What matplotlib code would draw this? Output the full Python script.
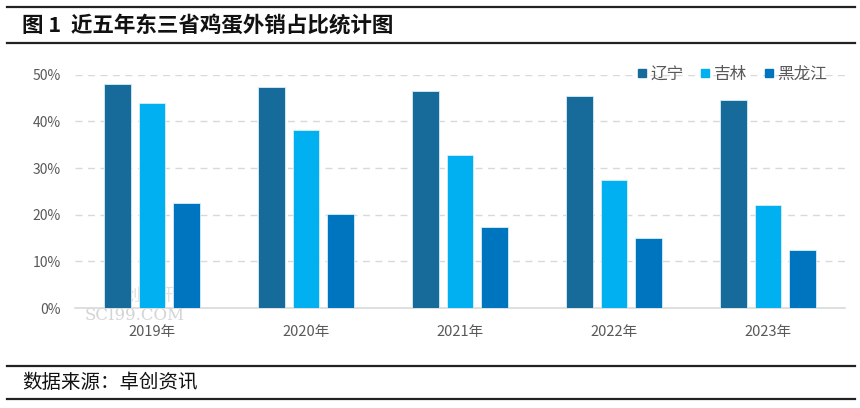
import matplotlib
matplotlib.use("Agg")
import matplotlib.pyplot as plt
import numpy as np
from matplotlib.lines import Line2D

plt.rcParams['font.family'] = ['Noto Sans CJK SC', 'DejaVu Sans']

years = ["2019年", "2020年", "2021年", "2022年", "2023年"]
series_names = ["辽宁", "吉林", "黑龙江"]
liaoning = [48.1, 47.3, 46.5, 45.5, 44.5]
jilin = [43.9, 38.1, 32.8, 27.4, 22.1]
heilongjiang = [22.5, 20.1, 17.4, 15.1, 12.4]
colors = ["#176B9A", "#00B0F0", "#0075BF"]
yticks = [0, 10, 20, 30, 40, 50]

fig = plt.figure(figsize=(8.6, 4.08), dpi=100)
ax = fig.add_axes([75/860, 1-308/408, 770/860, (308-74.7)/408])

x = np.arange(len(years))
w = 0.175
step = 0.222
for i, (vals, c, name) in enumerate(zip([liaoning, jilin, heilongjiang], colors, series_names)):
    ax.bar(x + (i-1)*step, vals, width=w, color=c, edgecolor="#D6EEF8", linewidth=0.6, label=name, zorder=3)

ax.set_xlim(-0.5, len(years)-0.5)
ax.set_ylim(0, 50)
ax.set_yticks(yticks)
ax.set_yticklabels([f"{t}%" for t in yticks], fontsize=10, color="#595959")
ax.set_xticks(x)
ax.set_xticklabels(years, fontsize=10.5, color="#595959")
ax.tick_params(axis='both', length=0)
ax.tick_params(axis='y', pad=10)
ax.tick_params(axis='x', pad=12.5)
for s in ['top', 'right', 'left']:
    ax.spines[s].set_visible(False)
ax.spines['bottom'].set_color("#D9D9D9")
ax.spines['bottom'].set_linewidth(1.2)
ax.yaxis.grid(True, linestyle=(0, (5, 4)), color="#D9D9D9", linewidth=1.0, zorder=0)
ax.set_axisbelow(True)

handles = [Line2D([0], [0], marker='s', color='none', markerfacecolor=c, markeredgecolor=c, markersize=5.5) for c in colors]
leg = fig.legend(handles, series_names, loc='center left', bbox_to_anchor=(637/860, 1-74/408),
                 ncol=3, frameon=False, fontsize=12, handlelength=0.6, handletextpad=0.2,
                 columnspacing=1.0, borderpad=0, borderaxespad=0)
for t in leg.get_texts():
    t.set_color("#595959")

# watermark (behind bars)
ax.text(10/770, -7/233.3, "SCI99.COM", transform=ax.transAxes, fontsize=12, color="#D4D4D4",
        family="DejaVu Serif", va='center', ha='left', zorder=1, clip_on=False)
ax.text(30/770, 12/233.3, "卓创资讯", transform=ax.transAxes, fontsize=13, color="#E0E0E0",
        va='center', ha='left', zorder=1, clip_on=False)

# title and frame lines
fig.add_artist(Line2D([7/860, 855/860], [1-6.5/408, 1-6.5/408], color="#222222", linewidth=1.6))
fig.add_artist(Line2D([7/860, 855/860], [1-43/408, 1-43/408], color="#222222", linewidth=1.6))
fig.text(22/860, 1-25/408, "图 1  近五年东三省鸡蛋外销占比统计图", fontsize=15.5, fontweight='bold',
         color="#111111", va='center', ha='left')

fig.add_artist(Line2D([7/860, 855/860], [1-366/408, 1-366/408], color="#222222", linewidth=1.6))
fig.add_artist(Line2D([7/860, 855/860], [1-399/408, 1-399/408], color="#222222", linewidth=1.6))
fig.text(22/860, 1-383/408, "数据来源：卓创资讯", fontsize=14, color="#111111", va='center', ha='left')

fig.savefig("out.png", dpi=100)
